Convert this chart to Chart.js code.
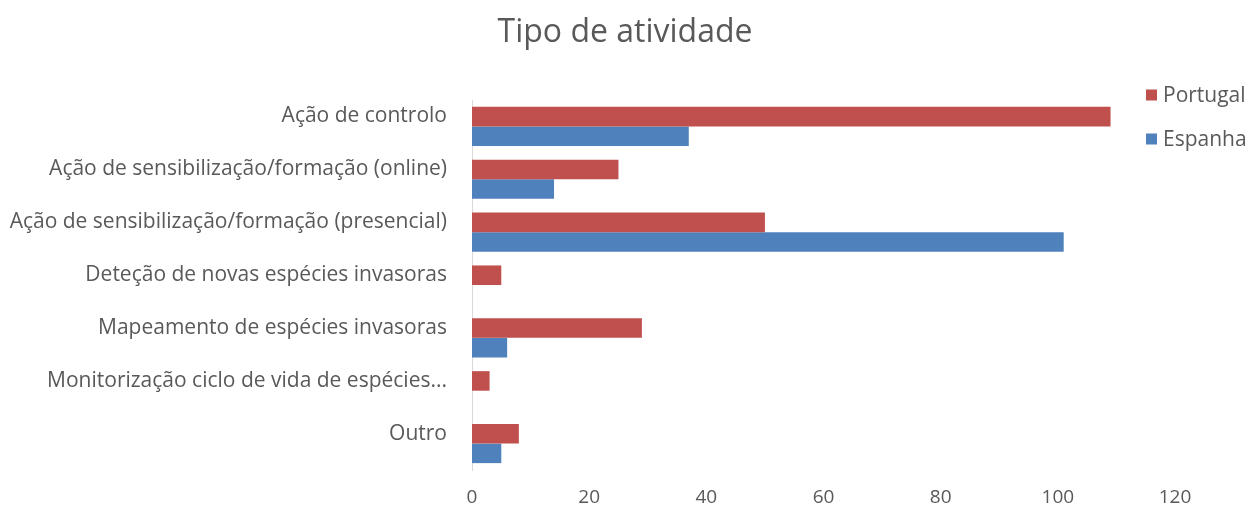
<!DOCTYPE html>
<html>
<head>
<meta charset="utf-8">
<script src="https://cdn.jsdelivr.net/npm/chart.js@4"></script>
<style>
html,body{margin:0;padding:0;background:#fff;}
#wrap{width:1250px;height:511px;position:relative;}
</style>
</head>
<body>
<div id="wrap"><canvas id="c" width="1250" height="511"></canvas></div>
<script>
const categories = [
  "Ação de controlo",
  "Ação de sensibilização/formação (online)",
  "Ação de sensibilização/formação (presencial)",
  "Deteção de novas espécies invasoras",
  "Mapeamento de espécies invasoras",
  "Monitorização ciclo de vida de espécies...",
  "Outro"
];
const portugal = [109, 25, 50, 5, 29, 3, 8];
const espanha = [37, 14, 101, 0, 6, 0, 5];
const xTicks = [0, 20, 40, 60, 80, 100, 120];
const titleText = "Tipo de atividade";

const FONT = "'Open Sans', sans-serif";
const GREY = "#595959";

const customDraw = {
  id: 'customDraw',
  afterDraw(chart) {
    const ctx = chart.ctx;
    ctx.save();
    // title
    ctx.fillStyle = GREY;
    ctx.font = "32px " + FONT;
    ctx.textAlign = "center";
    ctx.textBaseline = "middle";
    ctx.fillText(titleText, 625, 33);
    // legend
    ctx.font = "21px " + FONT;
    ctx.textAlign = "left";
    const ys = [95, 139];
    chart.data.datasets.forEach((ds, i) => {
      ctx.fillStyle = ds.backgroundColor;
      ctx.fillRect(1146, ys[i] - 5.5, 11, 11);
      ctx.fillStyle = GREY;
      ctx.fillText(ds.label, 1163, ys[i] + 1);
    });
    ctx.restore();
  }
};

new Chart(document.getElementById('c'), {
  type: 'bar',
  data: {
    labels: categories,
    datasets: [
      { label: 'Portugal', data: portugal, backgroundColor: '#C0504D', borderColor: '#C0504D', borderWidth: 0 },
      { label: 'Espanha', data: espanha, backgroundColor: '#4F81BD', borderColor: '#4F81BD', borderWidth: 0 }
    ]
  },
  options: {
    indexAxis: 'y',
    responsive: false,
    animation: false,
    devicePixelRatio: 1,
    layout: { padding: { top: 100, right: 75, bottom: 0, left: 0 } },
    datasets: { bar: { categoryPercentage: 0.74, barPercentage: 1.0 } },
    plugins: { legend: { display: false }, title: { display: false }, tooltip: { enabled: false } },
    scales: {
      x: {
        min: 0, max: 120,
        afterBuildTicks(scale) { scale.ticks = xTicks.map(v => ({ value: v })); },
        grid: { display: false, drawTicks: false },
        border: { display: false },
        ticks: { color: GREY, font: { family: FONT, size: 19 }, padding: 16 },
        afterFit(scale) { scale.height = 41; }
      },
      y: {
        grid: { display: false, drawTicks: false },
        border: { display: true, color: '#D9D9D9', width: 1 },
        ticks: { color: GREY, font: { family: FONT, size: 21 }, padding: 25, autoSkip: false, labelOffset: -10 },
        afterFit(scale) { scale.width = 472; }
      }
    }
  },
  plugins: [customDraw]
});
</script>
</body>
</html>
